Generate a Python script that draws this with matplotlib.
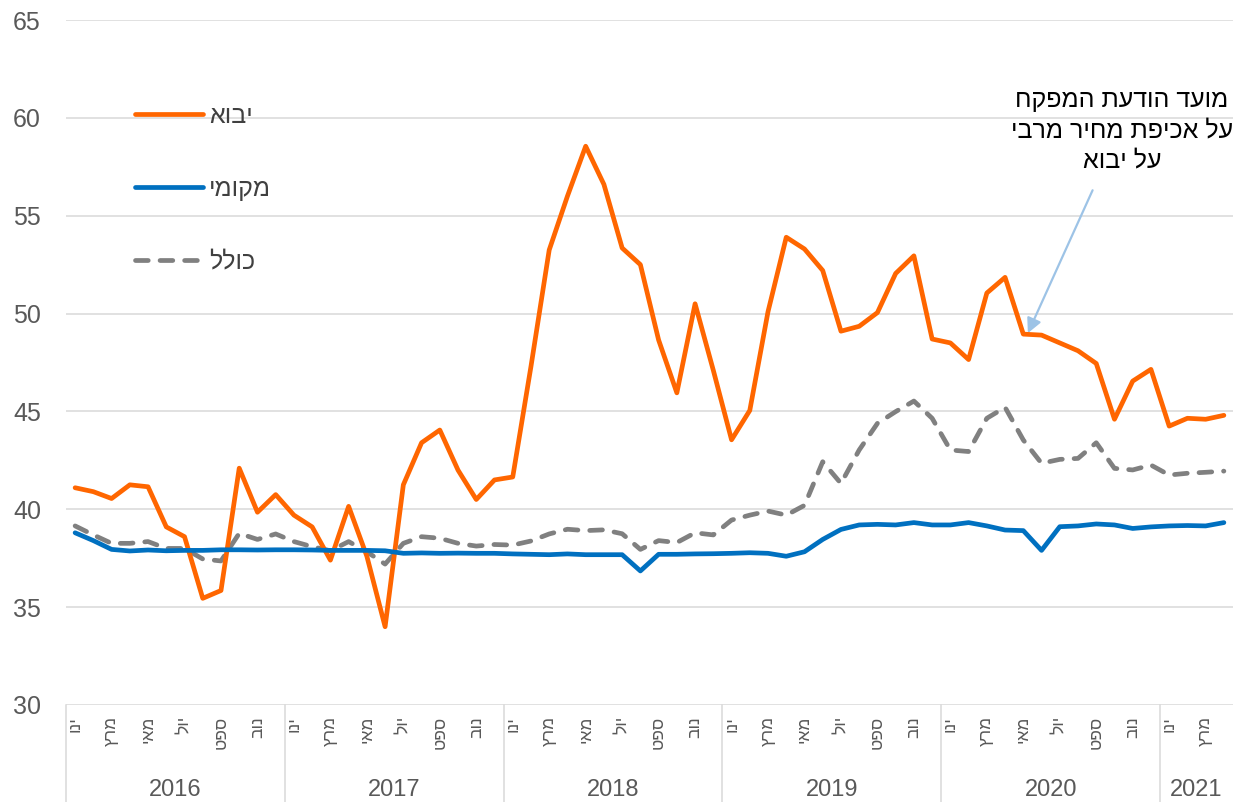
import matplotlib.pyplot as plt
from matplotlib.lines import Line2D

plt.rcParams["font.family"] = ["Liberation Sans", "DejaVu Sans"]


def rtl(s):
    # matplotlib has no bidi support, so feed Hebrew in visual order
    return s[::-1]


years = ["2016", "2017", "2018", "2019", "2020", "2021"]
month_names = ["ינו", "מרץ", "מאי", "יול", "ספט", "נוב"]  # every second month

# monthly values, Jan 2016 - Apr 2021
imports = [
    41.1, 40.9, 40.55, 41.25, 41.15, 39.1, 38.6, 35.45, 35.85, 42.1, 39.85, 40.75,
    39.7, 39.1, 37.4, 40.15, 37.6, 34.0, 41.25, 43.4, 44.05, 42.0, 40.5, 41.5,
    41.65, 47.3, 53.25, 56.0, 58.55, 56.6, 53.35, 52.5, 48.65, 45.95, 50.5, 47.1,
    43.55, 45.05, 50.1, 53.9, 53.3, 52.2, 49.1, 49.35, 50.05, 52.05, 52.95, 48.7,
    48.5, 47.65, 51.05, 51.85, 48.95, 48.9, 48.5, 48.1, 47.45, 44.6, 46.55, 47.15,
    44.25, 44.65, 44.6, 44.8,
]
local = [
    38.8, 38.4, 37.95, 37.87, 37.92, 37.88, 37.9, 37.9, 37.93, 37.93, 37.92, 37.93,
    37.93, 37.92, 37.9, 37.9, 37.9, 37.88, 37.75, 37.77, 37.75, 37.76, 37.75, 37.75,
    37.72, 37.7, 37.68, 37.72, 37.68, 37.68, 37.68, 36.85, 37.7, 37.7, 37.72, 37.73,
    37.75, 37.78, 37.75, 37.6, 37.83, 38.46, 38.97, 39.2, 39.23, 39.2, 39.32, 39.2,
    39.2, 39.32, 39.15, 38.94, 38.91, 37.9, 39.11, 39.15, 39.25, 39.2, 39.02, 39.1,
    39.15, 39.17, 39.15, 39.32,
]
total = [
    39.15, 38.69, 38.26, 38.26, 38.35, 38.0, 38.0, 37.46, 37.36, 38.77, 38.46, 38.74,
    38.35, 38.09, 37.88, 38.35, 37.83, 37.2, 38.26, 38.6, 38.52, 38.26, 38.12, 38.2,
    38.17, 38.38, 38.74, 38.98, 38.91, 38.95, 38.75, 37.95, 38.4, 38.3, 38.8, 38.69,
    39.45, 39.7, 39.91, 39.7, 40.2, 42.43, 41.32, 43.03, 44.39, 44.99, 45.53, 44.65,
    43.03, 42.95, 44.65, 45.21, 43.54, 42.35, 42.55, 42.6, 43.4, 42.09, 42.01, 42.26,
    41.75, 41.84, 41.89, 41.95,
]
labels = ["יבוא", "מקומי", "כולל"]
note_lines = ["מועד הודעת המפקח", "על אכיפת מחיר מרבי", "על יבוא"]
note_month = 52

text_c = "#595959"
grid_c = "#D9D9D9"
dash = (2.7, 2.5)

fig = plt.figure(figsize=(12.34, 8.02), dpi=100)
ax = fig.add_axes([66 / 1234, 97 / 802, 1167 / 1234, 685 / 802])

n = len(imports)
x = list(range(n))
ax.plot(x, imports, color="#FF6600", lw=3.4, solid_capstyle="round", zorder=3)
ax.plot(x, local, color="#0070C0", lw=3.4, solid_capstyle="round", zorder=3)
ax.plot(x, total, color="#808080", lw=3.4, dashes=dash,
        dash_capstyle="round", zorder=2)

ax.set_xlim(-0.5, n - 0.5)
ax.set_ylim(30, 65)
ax.set_yticks(range(30, 66, 5))
ax.grid(axis="y", color=grid_c, lw=1.1)
ax.set_axisbelow(True)
for s in ax.spines.values():
    s.set_visible(False)
ax.tick_params(axis="y", length=0, pad=18, labelsize=18, labelcolor=text_c)

ticks = list(range(0, n, 2))
ax.set_xticks(ticks)
ax.set_xticklabels([rtl(month_names[(t % 12) // 2]) for t in ticks],
                   rotation=90, fontsize=12.5, color=text_c)
ax.tick_params(axis="x", length=0, pad=8)

# year groups under the month labels
tr = ax.get_xaxis_transform()
for k, yr in enumerate(years):
    start = 12 * k
    end = min(start + 12, n)
    ax.text((start + end - 1) / 2, -0.124, yr, transform=tr, ha="center",
            va="center", fontsize=17, color=text_c)
    ax.plot([start - 0.5, start - 0.5], [0, -0.142], transform=tr,
            color=grid_c, lw=1.1, clip_on=False)

handles = [
    Line2D([], [], color="#FF6600", lw=3.4, solid_capstyle="round"),
    Line2D([], [], color="#0070C0", lw=3.4, solid_capstyle="round"),
    Line2D([], [], color="#808080", lw=3.4, dashes=dash, dash_capstyle="round"),
]
ax.legend(handles, [rtl(l) for l in labels], loc="upper left",
          bbox_to_anchor=(0.04, 0.91), frameon=False, fontsize=18,
          labelcolor="#404040", handlelength=2.7, handletextpad=0.25,
          labelspacing=1.95)

ax.annotate("", xy=(note_month + 0.25, 49.0), xytext=(55.8, 56.3),
            arrowprops=dict(arrowstyle="-|>", color="#9DC3E6", lw=1.6,
                            mutation_scale=22, shrinkA=0, shrinkB=0))
ax.text(57.4, 59.35, "\n".join(rtl(l) for l in note_lines), ha="center",
        va="center", multialignment="center", fontsize=18, linespacing=1.33,
        color="#000000")

fig.savefig("out.png", dpi=100)
